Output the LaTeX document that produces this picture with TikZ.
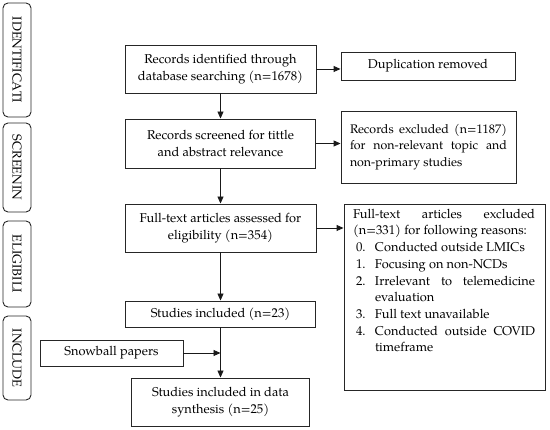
\documentclass[tikz,border=0pt]{standalone}
\usepackage{fontspec}
\setmainfont{texgyrepagella-regular.otf}
\usetikzlibrary{arrows.meta}
\begin{document}
\begin{tikzpicture}[x=1pt,y=1pt,
  every node/.style={font=\fontsize{12.8}{17}\selectfont, text=black},
  mainbox/.style={draw=black!85, line width=0.9pt, align=center, inner sep=0pt},
  sidebox/.style={draw=black!85, line width=0.9pt, rounded corners=5pt, rotate=-90, inner sep=0pt, minimum height=28pt},
  arr/.style={draw=black!90, line width=0.9pt, -{Triangle[length=7pt,width=6pt]}}
]
\useasboundingbox (0,0) rectangle (550,430);
% side labels
\node[sidebox, minimum width=114pt] (sid) at (17,370) {IDENTIFICATI};
\node[sidebox, minimum width=89pt] (ssc) at (17,262.5) {SCREENIN};
\node[sidebox, minimum width=86pt] (sel) at (17,166) {ELIGIBILI};
\node[sidebox, minimum width=84pt] (sin) at (17,72) {INCLUDE};
% main column
\node[mainbox, minimum width=191pt, minimum height=48pt] (ident) at (220.5,361) {Records identified through\\database searching (n=1678)};
\node[mainbox, minimum width=190pt, minimum height=49pt] (screen) at (220.5,286.5) {Records screened for tittle\\and abstract relevance};
\node[mainbox, minimum width=191pt, minimum height=48pt] (full) at (220.5,202) {Full-text articles assessed for\\eligibility (n=354)};
\node[mainbox, minimum width=190pt, minimum height=26pt] (incl) at (220.5,116) {Studies included (n=23)};
\node[mainbox, minimum width=178pt, minimum height=48pt] (synth) at (220.5,28) {Studies included in data\\synthesis (n=25)};
\node[mainbox, minimum width=143pt, minimum height=26pt] (snow) at (111.5,77) {Snowball papers};
% right column
\node[mainbox, minimum width=174pt, minimum height=28pt] (dup) at (428,364) {Duplication removed};
\node[draw=black!85, line width=0.9pt, inner xsep=9pt, inner ysep=0pt] (recx) at (428.5,283)
  {\parbox[c][72pt][c]{157pt}{\fontsize{12.4}{16.7}\selectfont Records excluded (n=1187)\linebreak for non-relevant topic and non-primary studies}};
\node[draw=black!85, line width=0.9pt, inner sep=0pt] (ftx) at (444.5,133)
  {\parbox[c][186pt][t]{201pt}{\fontsize{12.8}{16.7}\selectfont\setlength{\parindent}{0pt}%
   \leftskip=9pt \rightskip=10pt
   \vspace*{5pt}%
   Full-text articles excluded\linebreak (n=331) for following reasons:\par
   \hangindent=22pt\hangafter=1\hspace*{3pt}\makebox[19pt][l]{0.}Conducted outside LMICs\par
   \hangindent=22pt\hangafter=1\hspace*{3pt}\makebox[19pt][l]{1.}Focusing on non-NCDs\par
   \hangindent=22pt\hangafter=1\hspace*{3pt}\makebox[19pt][l]{2.}Irrelevant to telemedicine evaluation\par
   \hangindent=22pt\hangafter=1\hspace*{3pt}\makebox[19pt][l]{3.}Full text unavailable\par
   \hangindent=22pt\hangafter=1\hspace*{3pt}\makebox[19pt][l]{4.}Conducted outside COVID timeframe\par}};
% connectors
\draw[arr] (ident.south) -- (screen.north);
\draw[arr] (screen.south) -- (full.north);
\draw[arr] (full.south) -- (incl.north);
\draw[arr] (incl.south) -- (synth.north);
\draw[arr] (snow.east) -- (snow.east -| incl.south);
\draw[arr] (ident.east) -- (ident.east -| dup.west);
\draw[arr] (screen.east) -- (screen.east -| recx.west);
\draw[arr] (full.east) -- (full.east -| ftx.west);
\end{tikzpicture}
\end{document}
